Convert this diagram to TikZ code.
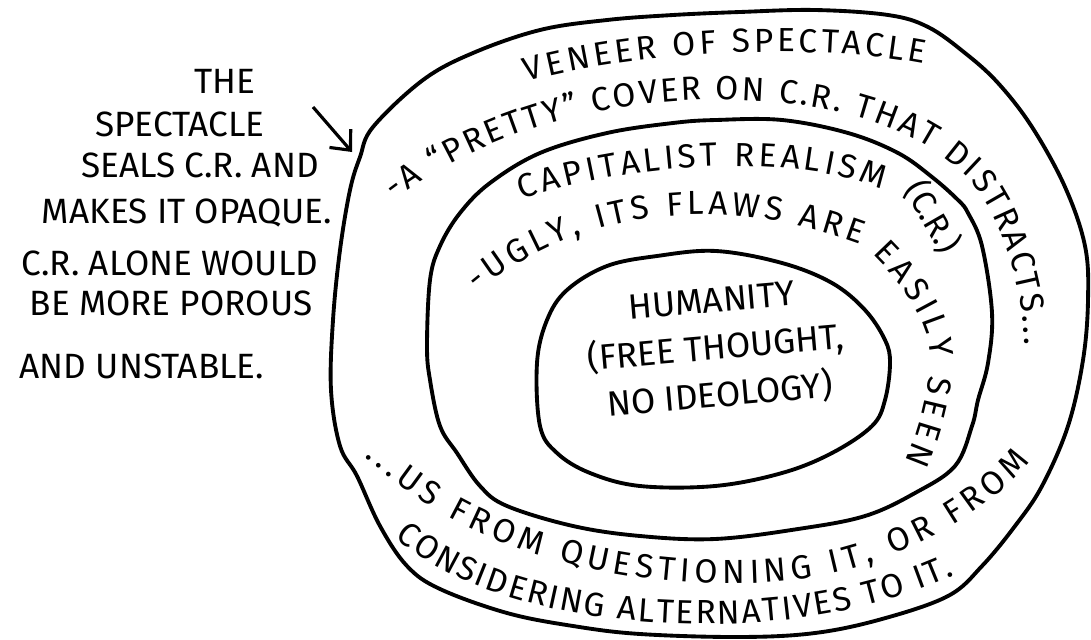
\documentclass[tikz,border=0pt]{standalone}
\usepackage{fontspec}
\setmainfont{Fira Sans}
\usepackage{tikz}
\usetikzlibrary{positioning, arrows.meta, decorations.text}

\newcommand{\handfont}{\fontsize{20}{27}\selectfont}
\newcommand{\arcfont}{\fontsize{19}{24}\selectfont}

\tikzset{
  blob/.style={line width=2.2pt, line join=round},
  hand/.style={font=\handfont, inner sep=0pt},
  along/.style={decorate, decoration={text along path, text align=fit to path, text={|\arcfont|#1}}}
}

\begin{document}
\begin{tikzpicture}[x=0.02cm, y=-0.02cm]
    \useasboundingbox (0,0) rectangle (1091,639);

    \draw[blob] plot[smooth cycle, tension=0.6] coordinates {(373,127) (360,157) (350,190) (340,250) (333,320) (331,390) (340,446) (357,476) (380,526) (407,566) (440,589) (507,613) (573,626) (640,634) (740,637) (815,633) (882,619) (948,596) (982,566) (1015,526) (1042,486) (1068,426) (1083,360) (1088,300) (1085,246) (1065,187) (1032,127) (998,83) (965,53) (928,27) (888,15) (815,10) (740,12) (673,15) (607,20) (540,30) (473,53) (423,80)};
    \draw[blob] plot[smooth cycle, tension=0.6] coordinates {(460,213) (490,183) (540,153) (607,133) (673,123) (716,120) (782,120) (848,133) (898,153) (932,177) (958,200) (968,213) (982,246) (992,313) (988,363) (978,400) (972,426) (955,466) (915,493) (865,516) (798,529) (715,539) (640,536) (573,526) (507,506) (480,486) (457,453) (440,426) (430,380) (427,346) (430,280) (440,246)};
    \draw[blob] plot[smooth cycle, tension=0.6] coordinates {(547,320) (567,290) (607,266) (657,256) (716,251) (782,263) (832,283) (865,310) (885,340) (890,363) (885,400) (872,426) (832,453) (782,473) (715,486) (640,486) (590,473) (557,453) (540,426) (537,363)};

    \path[along={VENEER OF SPECTACLE}] (527,82) .. controls (620,55) and (800,40) .. (924,64);
    \path[along={-A “PRETTY” COVER ON C.R. THAT DISTRACTS...}] (395,200) .. controls (460,150) and (560,105) .. (700,100) .. controls (820,98) and (910,120) .. (970,180) .. controls (1000,215) and (1022,280) .. (1025,345);
    \path[along={CAPITALIST  REALISM}] (522,200) .. controls (620,165) and (790,150) .. (882,190);
    \node (cr) [hand, font=\arcfont, rotate=-60] at (933,217) {(C.R.)};
    \path[along={-UGLY, ITS FLAWS ARE}] (478,292) .. controls (560,222) and (700,185) .. (860,244);
    \path[along={EASILY SEEN}] (872,254) .. controls (910,292) and (935,330) .. (930,370) .. controls (926,405) and (915,440) .. (905,462);
    \path[along={...US FROM QUESTIONING IT, OR FROM}] (365,456) .. controls (450,540) and (600,590) .. (760,583) .. controls (880,578) and (980,520) .. (1030,462);
    \path[along={CONSIDERING ALTERNATIVES TO IT.}] (395,537) .. controls (460,595) and (580,625) .. (715,624) .. controls (820,623) and (900,600) .. (955,575);

    \node (humanity) [hand, align=center, rotate=5] at (716,350) {HUMANITY\\(FREE THOUGHT,\\NO IDEOLOGY)};

    \foreach \nm/\xx/\yy/\txt in {the/225/93/THE, spectacle/180/136/SPECTACLE, seals/200/177/SEALS C.R. AND, makes/187/223/MAKES IT OPAQUE., alone/170/275/C.R. ALONE WOULD, porous/171/315/BE MORE POROUS, unstable/142/378/AND UNSTABLE.}
        \node (note-\nm) [hand, anchor=base] at (\xx,\yy) {\txt};

    \coordinate (arrow-from) at (313,107);
    \coordinate (arrow-to) at (352,152);
    \draw[line width=1.8pt, -{Straight Barb[length=9pt, width=16pt, line width=1.8pt]}] (arrow-from) -- (arrow-to);
\end{tikzpicture}
\end{document}
